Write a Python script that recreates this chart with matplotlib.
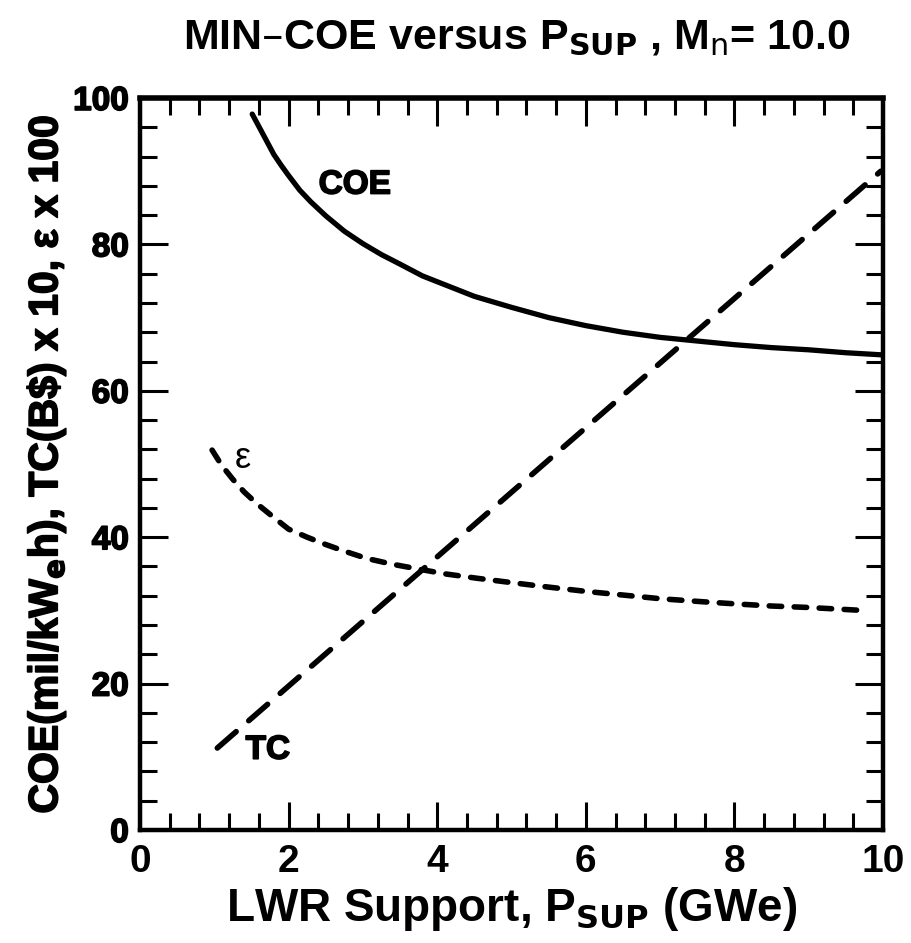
import matplotlib
matplotlib.use("Agg")
import matplotlib.pyplot as plt
from matplotlib.ticker import MultipleLocator
import matplotlib.patheffects as pe

# ---------------- data ----------------
coe_x = [1.51, 1.6, 1.7, 1.8, 1.9, 2.0, 2.15, 2.3, 2.5, 2.75, 3.0, 3.25, 3.5, 3.8,
         4.0, 4.5, 5.0, 5.5, 6.0, 6.5, 7.0, 7.5, 8.0, 8.5, 9.0, 9.5, 10.0]
coe_y = [97.8, 96.1, 94.2, 92.3, 90.8, 89.4, 87.4, 85.8, 83.9, 81.8, 80.1, 78.6, 77.3,
         75.7, 74.9, 72.9, 71.4, 70.0, 68.9, 68.0, 67.3, 66.8, 66.3, 65.9, 65.6, 65.2, 64.9]

eps_x = [0.97, 1.1, 1.25, 1.4, 1.57, 1.8, 2.0, 2.25, 2.5, 2.75, 3.05, 3.4, 3.72, 4.1,
         4.53, 5.0, 5.4, 6.0, 6.5, 7.0, 7.55, 8.0, 8.5, 9.0, 9.72]
eps_y = [51.9, 49.8, 47.9, 46.2, 44.6, 42.7, 41.1, 40.0, 39.0, 38.1, 37.1, 36.3, 35.7,
         35.0, 34.4, 33.8, 33.3, 32.6, 32.1, 31.6, 31.2, 30.9, 30.6, 30.4, 30.0]

tc_x = [1.04, 9.97]
tc_y = [11.2, 90.0]

x_ticks = [0, 2, 4, 6, 8, 10]
y_ticks = [0, 20, 40, 60, 80, 100]

# ---------------- style ----------------
font = 'Liberation Sans'
heavy = [pe.withStroke(linewidth=1.2, foreground='black')]
plt.rcParams['lines.scale_dashes'] = False

fig = plt.figure(figsize=(9.11, 9.43), dpi=100)
ax = fig.add_axes([0.1537, 0.1198, 0.8156, 0.7763])

ax.plot(coe_x, coe_y, color='black', lw=3.8, solid_capstyle='round')
ax.plot(eps_x, eps_y, color='black', lw=4.0, linestyle=(0, (9, 9)),
        dash_capstyle='round')
ax.plot(tc_x, tc_y, color='black', lw=4.0, linestyle=(0, (18, 12)),
        dash_capstyle='round')

ax.set_xlim(0, 10)
ax.set_ylim(0, 100)
ax.set_xticks(x_ticks)
ax.set_yticks(y_ticks)
ax.xaxis.set_minor_locator(MultipleLocator(0.4))
ax.yaxis.set_minor_locator(MultipleLocator(4))
ax.tick_params(which='both', direction='in', top=True, right=True, width=2.2, color='black')
ax.tick_params(which='major', length=20)
ax.tick_params(which='minor', length=12)
ax.tick_params(axis='x', which='major', pad=10)
ax.tick_params(axis='y', which='major', pad=8)

for s in ax.spines.values():
    s.set_linewidth(3.2)
ax.spines['top'].set_linewidth(4)

ax.set_xticklabels([str(t) for t in x_ticks], fontfamily=font, fontweight='bold', fontsize=28)
ax.set_yticklabels([str(t) for t in y_ticks], fontfamily=font, fontweight='bold', fontsize=24,
                   path_effects=heavy)

ax.set_xlabel(r'LWR Support, P$_{\mathbf{SUP}}$ (GWe)', fontfamily=font, fontweight='bold',
              fontsize=33, labelpad=4)
ax.set_ylabel(r'COE(mil/kW$_{\mathbf{e}}$h), TC(B\$) x 10, ε x 100', fontfamily=font,
              fontweight='bold', fontsize=29.5, labelpad=4, path_effects=heavy)

fig.text(0.567, 0.960, r'MIN–COE versus P$_{\mathbf{SUP}}$ , M$_{\mathrm{n}}$= 10.0',
         fontfamily=font, fontweight='bold', fontsize=31, ha='center', va='center')

ax.text(2.89, 88.1, 'COE', fontfamily=font, fontweight='bold', fontsize=24,
        ha='center', va='center', path_effects=heavy)
ax.text(1.72, 10.9, 'TC', fontfamily=font, fontweight='bold', fontsize=24,
        ha='center', va='center', path_effects=heavy)
ax.text(1.39, 50.8, 'ε', fontfamily=font, fontsize=26, ha='center', va='center')

fig.savefig('out.png', dpi=100)
